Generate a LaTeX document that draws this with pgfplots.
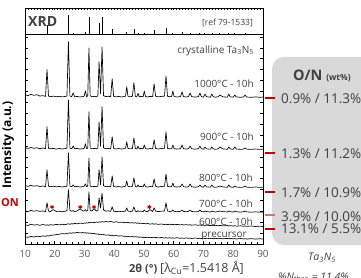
\documentclass[border=0pt]{standalone}
\usepackage{pgfplots}
\pgfplotsset{compat=1.18}
\usepackage{pgfplotstable}
\usepackage{fontspec}
\setmainfont{Open Sans}
\definecolor{txt}{HTML}{404040}
\definecolor{tickc}{HTML}{595959}
\definecolor{dred}{HTML}{C00000}
\definecolor{lred}{HTML}{E07070}
\definecolor{boxgray}{HTML}{D9D9D9}

\pgfplotstableread{
x A B C D E F
10 149.2 96.3 58.4 33.2 19.3 7.2
11 148.4 95.6 57.6 32.5 18.5 6.6
12 149.6 96.5 58.7 33.6 19.8 7.6
13 148.7 95.7 57.8 32.8 18.9 7.0
14 149.3 96.2 58.3 33.3 19.4 7.8
15 147.9 95.4 57.5 32.6 18.7 7.4
16 148.4 96.0 58.0 33.1 19.5 8.1
16.9 147.6 95.3 57.4 32.4 18.8 7.7
17.4 174.5 117.3 74.2 41.3 19.2 8.3
17.9 148.0 95.7 57.9 33.0 18.6 7.9
18.5 147.3 95.1 57.2 32.3 19.4 8.6
19.5 147.9 95.6 57.8 34.4 18.9 8.9
20.5 147.2 94.9 57.1 32.5 19.6 9.4
21.5 147.7 95.5 57.6 32.9 19.1 9.8
22.5 147.1 95.0 57.0 32.2 19.8 10.4
23.5 147.6 95.4 57.5 32.8 19.3 10.1
24.1 147.9 95.8 57.8 33.3 19.9 10.8
24.6 202.3 144.0 91.2 54.3 20.2 10.6
25.1 148.0 95.9 57.9 33.6 19.7 11.2
25.7 147.3 95.2 57.3 32.7 20.4 10.7
26.2 151.2 98.0 59.1 33.4 20.0 11.3
26.7 147.2 95.1 57.2 32.4 20.6 10.9
27.5 147.6 95.6 57.7 33.0 20.2 11.6
28.5 147.0 94.9 57.0 35.2 20.9 11.1
29.5 147.5 95.4 57.5 32.9 20.5 11.5
29.9 147.9 95.7 57.8 33.2 21.1 10.9
30.3 153.1 100.2 60.1 34.3 20.7 11.4
30.7 147.4 95.3 57.4 32.8 21.3 10.8
31.1 148.2 95.9 58.0 33.5 20.9 11.2
31.5 196.0 132.2 86.1 52.2 21.6 10.6
31.9 148.3 96.0 58.1 33.7 21.2 11.0
32.5 147.2 95.2 57.2 33.0 21.8 10.3
33.2 147.7 95.6 57.6 35.3 21.4 10.6
34.0 147.3 95.3 57.3 33.0 22.0 9.9
34.5 148.1 95.9 57.9 33.6 21.6 10.1
34.9 182.2 122.1 74.3 46.2 22.2 9.5
35.4 150.5 97.8 59.2 36.0 21.8 9.8
35.9 197.1 137.3 87.0 51.1 22.4 9.2
36.4 148.4 96.1 58.2 34.0 21.9 9.5
37.2 147.3 95.2 57.3 32.9 22.5 8.8
38.0 147.8 95.6 57.7 33.2 22.0 9.1
38.8 147.2 95.1 57.1 32.6 22.6 8.5
39.3 165.2 107.3 68.1 37.2 22.1 8.8
39.8 147.6 95.5 57.6 32.9 21.7 8.2
40.6 147.1 95.0 57.0 32.4 22.3 8.5
41.5 147.6 95.5 57.5 32.8 21.6 7.9
42.5 147.0 94.9 56.9 32.3 21.9 8.2
43.3 147.5 95.3 57.4 32.7 21.3 7.6
43.8 147.9 95.7 57.8 33.1 21.7 7.9
44.2 157.3 102.2 63.1 36.1 21.2 7.4
44.6 147.8 95.6 57.7 33.0 21.6 7.7
45.4 147.2 95.1 57.1 32.5 21.0 7.2
46.1 147.7 95.5 57.6 32.9 21.4 7.5
46.6 161.2 106.1 66.2 37.1 20.9 7.0
47.1 147.6 95.4 57.5 32.8 21.3 7.4
47.6 147.1 95.0 57.0 32.3 20.7 6.9
48.0 150.8 97.9 59.0 33.3 21.1 7.2
48.4 147.3 95.2 57.2 32.6 20.5 6.7
49.0 147.7 95.6 57.6 32.9 20.9 7.0
49.7 147.2 95.1 57.1 32.4 20.3 6.5
50.1 153.0 99.0 60.0 34.0 20.7 6.9
50.5 147.5 95.4 57.4 32.7 20.1 6.4
51.2 147.0 94.9 56.9 32.3 20.5 6.8
52.0 147.6 95.5 57.5 34.4 19.9 6.3
52.9 147.3 95.2 57.2 32.5 20.3 6.7
53.4 160.1 104.2 65.1 36.2 19.8 6.2
53.9 147.8 95.6 57.7 33.0 20.2 6.6
54.8 147.1 95.0 57.0 32.4 19.6 6.1
55.8 147.6 95.5 57.5 32.8 20.0 6.5
56.9 147.9 95.8 57.8 33.1 19.5 6.0
57.4 168.1 112.2 70.1 41.2 19.9 6.4
57.9 147.8 95.7 57.7 33.0 19.4 5.9
58.7 147.2 95.1 57.1 32.5 19.8 6.3
59.3 147.6 95.4 57.5 32.8 19.3 5.8
59.7 153.0 99.0 61.0 34.0 19.7 6.2
60.1 147.5 95.4 57.4 32.7 19.2 5.8
61.0 147.0 94.9 56.9 32.3 19.6 6.3
62.3 147.5 95.3 57.4 32.7 19.1 5.7
62.8 152.1 99.0 60.0 34.0 19.5 6.1
63.3 147.4 95.3 57.3 32.6 19.0 5.6
64.3 147.0 94.9 56.9 32.2 19.4 6.1
65.0 147.5 95.4 57.4 32.7 18.9 5.6
65.5 151.1 98.0 60.0 34.0 19.3 6.0
66.0 147.4 95.3 57.3 32.6 18.8 5.5
67.2 146.9 94.8 56.8 32.1 19.2 6.0
68.3 147.4 95.3 57.3 32.5 18.7 5.5
68.8 151.0 98.0 59.0 34.0 19.1 5.9
69.3 147.3 95.2 57.2 32.5 18.6 5.4
70.0 146.9 94.8 56.8 32.1 19.0 5.9
70.5 150.0 97.0 59.0 33.0 18.5 5.4
71.0 147.3 95.2 57.2 32.5 18.9 5.8
72.3 146.8 94.8 56.8 32.0 18.4 5.3
72.8 150.0 97.0 59.0 33.0 18.8 5.8
73.3 147.2 95.1 57.1 32.4 18.3 5.3
74.0 146.8 94.7 56.7 32.0 18.7 5.7
75.0 147.3 95.2 57.2 32.5 18.2 5.2
75.5 149.0 97.0 58.0 33.0 18.6 5.7
76.5 147.2 95.1 57.1 32.4 18.1 5.2
78.0 146.8 94.7 56.7 32.0 18.5 5.6
78.5 150.0 97.0 59.0 33.0 18.0 5.1
79.0 147.2 95.1 57.1 32.4 18.4 5.6
80.0 146.8 94.7 56.7 31.9 17.9 5.1
80.5 149.0 97.0 58.0 33.0 18.3 5.5
81.0 147.1 95.0 57.0 32.3 17.8 5.0
82.5 146.7 94.6 56.6 31.9 18.2 5.5
83.5 147.1 95.0 57.0 32.3 17.7 5.0
84.0 149.0 96.0 58.0 33.0 18.1 5.4
84.5 147.0 94.9 56.9 32.2 17.6 4.9
86.0 146.7 94.6 56.6 31.8 18.0 5.4
87.5 147.1 95.0 57.0 32.2 17.5 4.9
89.0 146.7 94.6 56.6 31.8 17.9 5.3
90.0 147.0 94.9 56.9 32.1 17.4 4.9
}\xrd

\pgfplotstableread{
x y
17.4 9
24.5 19
26.1 1.5
30.4 2
31.5 17
35.0 11
35.9 17
39.5 5
44.2 2
46.6 5
48.0 1
50.2 1.5
53.4 4
57.4 6
59.5 1.5
62.8 2
65.5 1.5
68.7 1.5
70.4 1
72.8 1.5
75.3 1
78.4 1
80.5 1
84.0 1
}\sticks

\begin{document}
\begin{tikzpicture}[x=1pt,y=1pt]
\useasboundingbox (0,0) rectangle (361,277);
\fill[boxgray, rounded corners=12pt] (272,32) rectangle (395,220);

\begin{axis}[at={(25pt,33pt)}, anchor=south west, scale only axis,
  width=238pt, height=210pt, xmin=10, xmax=90, ymin=0, ymax=210,
  xtick={10,20,...,90}, minor x tick num=4, xtick pos=left,
  ytick={0,10.9,...,210}, yticklabels={}, ytick pos=both,
  tick align=inside, major tick length=3pt, minor tick length=1.8pt,
  axis line style={line width=0.8pt},
  every tick/.style={black, line width=0.5pt},
  tick label style={font=\fontsize{10}{12}\selectfont, text=tickc},
  /pgf/number format/assume math mode=true, xticklabel shift=3pt, clip=false]
\addplot[black, line width=0.65pt, line join=round] table[x=x,y=A]{\xrd};
\addplot[black, line width=0.65pt, line join=round] table[x=x,y=B]{\xrd};
\addplot[black, line width=0.65pt, line join=round] table[x=x,y=C]{\xrd};
\addplot[black, line width=0.65pt, line join=round] table[x=x,y=D]{\xrd};
\addplot[black, line width=0.65pt, line join=round] table[x=x,y=E]{\xrd};
\addplot[black, line width=0.65pt, line join=round] table[x=x,y=F]{\xrd};
\addplot[only marks, mark=asterisk, dred, mark size=2.2pt, line width=0.8pt] coordinates {(19.1,37)(28.6,37)(33.2,37)(51.8,37)};
\end{axis}

\begin{axis}[at={(25pt,243pt)}, anchor=south west, scale only axis,
  width=238pt, height=26pt, xmin=10, xmax=90, ymin=0, ymax=26,
  xtick={10,20,...,90}, minor x tick num=9, xtick pos=right, xticklabels={},
  ytick=\empty, tick align=inside, major tick length=2pt, minor tick length=1.5pt,
  every tick/.style={black, line width=0.5pt},
  axis line style={line width=0.8pt}]
\addplot[ycomb, black, line width=0.6pt] table[x=x,y=y]{\sticks};
\end{axis}

\node[anchor=base west, inner sep=0, font=\bfseries\fontsize{14}{16}\selectfont, text=txt] at (28,251) {XRD};
\node[anchor=base east, inner sep=0, font=\fontsize{8.5}{10}\selectfont, text=txt] at (253,252) {[ref 79-1533]};

\begin{scope}[every node/.style={anchor=base east, inner sep=0, font=\fontsize{10}{12}\selectfont, text=txt}]
\node at (254,224) {crystalline Ta\textsubscript{3}N\textsubscript{5}};
\node at (254,190) {1000°C - 10h};
\node at (254,137) {900°C - 10h};
\node at (253,96) {800°C - 10h};
\node at (253,70) {700°C - 10h};
\node at (253,52) {600°C - 10h};
\node[anchor=base] at (224,40) {precursor};
\end{scope}

\node[rotate=90, font=\bfseries\fontsize{12}{14}\selectfont, text=black] at (8,132) {Intensity (a.u.)};
\node[anchor=east, inner sep=0, font=\bfseries\fontsize{11}{13}\selectfont, text=dred] at (19,74) {ON};
\node[anchor=base west, inner sep=0, text=txt] at (129,5) {\fontsize{11}{13}\selectfont\textbf{2θ (°)} \fontsize{12.5}{14}\selectfont[λ\textsubscript{Cu}=1.5418 Å]};

\node[anchor=base west, inner sep=0, text=txt] at (293,197) {\fontsize{14.5}{16}\selectfont\bfseries O/N \fontsize{8.5}{10}\selectfont (wt\%)};
\begin{scope}[every node/.style={anchor=base west, inner sep=0, font=\fontsize{13.5}{15}\selectfont, text=txt}]
\node at (281,174) {0.9\% / 11.3\%};
\node at (281,119) {1.3\% / 11.2\%};
\node at (281,80) {1.7\% / 10.9\%};
\node at (281,56) {3.9\% / 10.0\%};
\node at (281,44) {13.1\% / 5.5\%};
\end{scope}
\draw[dred, line width=1.2pt] (265,179) -- (275,179);
\draw[dred, line width=1.2pt] (265,124) -- (275,124);
\draw[dred, line width=1.2pt] (265,85) -- (275,85);
\draw[lred, line width=1.2pt] (265,62) -- (275,62);
\draw[dred, line width=1.2pt] (265,48) -- (275,48);

\node[font=\itshape\fontsize{10.5}{12}\selectfont, text=txt] at (322,19) {Ta\textsubscript{3}N\textsubscript{5}};
\node[anchor=base west, inner sep=0, font=\itshape\fontsize{10.5}{12}\selectfont, text=txt] at (278,-3) {\%N\textsubscript{theo} = 11.4\%};
\end{tikzpicture}
\end{document}
